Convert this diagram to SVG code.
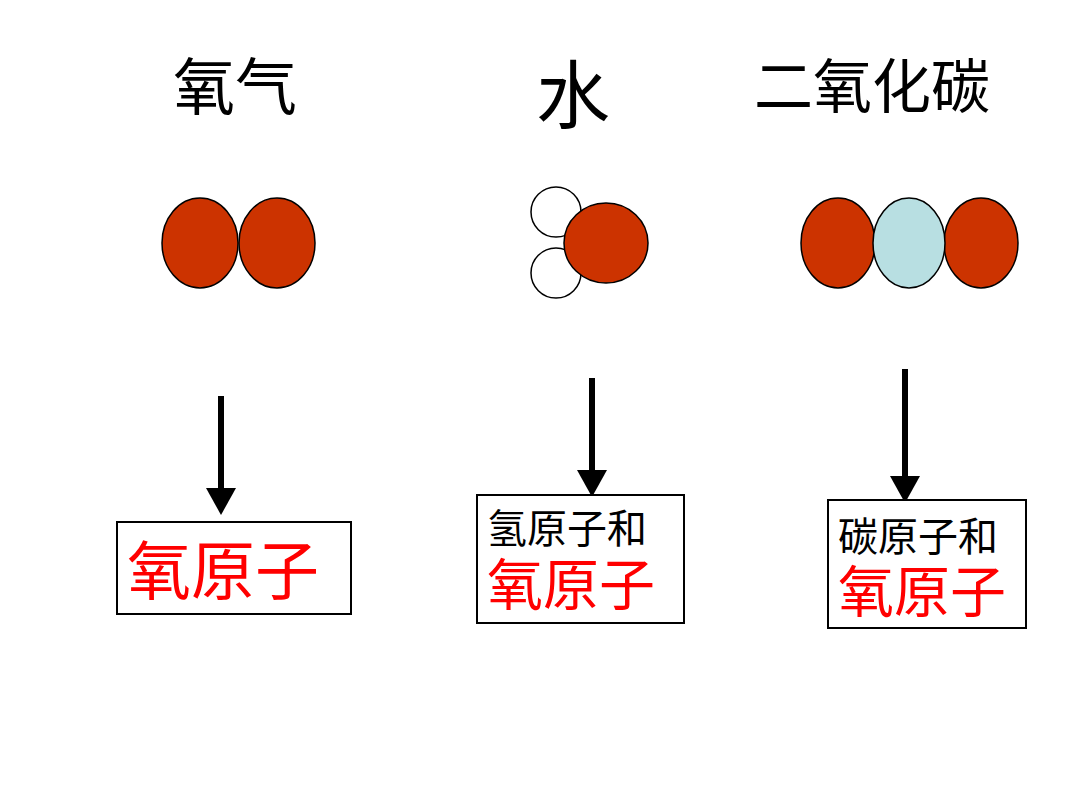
<svg xmlns="http://www.w3.org/2000/svg" width="1080" height="810" viewBox="0 0 1080 810">
<style>
text{font-family:"Liberation Serif","Noto Sans CJK SC",serif}
.o{fill:#cc3300;stroke:#000;stroke-width:1.5}
.h{fill:#fff;stroke:#000;stroke-width:1.5}
.c{fill:#b8dfe2;stroke:#000;stroke-width:1.5}
.box{fill:#fff;stroke:#000;stroke-width:2}
.red{fill:#ff0000}
.ar{stroke:#000;stroke-width:6;marker-end:url(#ah)}
</style>
<defs><marker id="ah" markerWidth="5" markerHeight="5" refX="0" refY="2.5" orient="auto" markerUnits="strokeWidth"><path d="M0,0L4.5,2.5L0,5Z" fill="#000"/></marker></defs>
<rect width="1080" height="810" fill="#fff"/>
<g id="o2"><text x="173" y="110" font-size="62">氧气</text>
<ellipse class="o" cx="200" cy="243" rx="38" ry="45"/><ellipse class="o" cx="277" cy="243" rx="38" ry="45"/></g>
<g id="h2o"><text x="536" y="122" font-size="74">水</text>
<circle class="h" cx="556" cy="212" r="25"/><circle class="h" cx="556" cy="273" r="25"/>
<ellipse class="o" cx="606" cy="243" rx="42" ry="40"/></g>
<g id="co2"><text x="754" y="108" font-size="59">二氧化碳</text>
<ellipse class="o" cx="838" cy="243" rx="37" ry="45"/><ellipse class="o" cx="981" cy="243" rx="37" ry="45"/>
<ellipse class="c" cx="909" cy="243" rx="36" ry="45"/></g>
<g id="connectors">
<line class="ar" x1="221" y1="396" x2="221" y2="488"/>
<line class="ar" x1="592" y1="378" x2="592" y2="470"/>
<line class="ar" x1="905" y1="369" x2="905" y2="476"/>
</g>
<g id="box1"><rect class="box" x="117" y="522" width="234" height="92"/>
<text class="red" x="127" y="594" font-size="64">氧原子</text></g>
<g id="box2"><rect class="box" x="477" y="495" width="207" height="128"/>
<text x="487" y="543" font-size="40">氢原子和</text>
<text class="red" x="487" y="605" font-size="56">氧原子</text></g>
<g id="box3"><rect class="box" x="828" y="500" width="198" height="128"/>
<text x="838" y="551" font-size="40">碳原子和</text>
<text class="red" x="838" y="612" font-size="56">氧原子</text></g>
</svg>
